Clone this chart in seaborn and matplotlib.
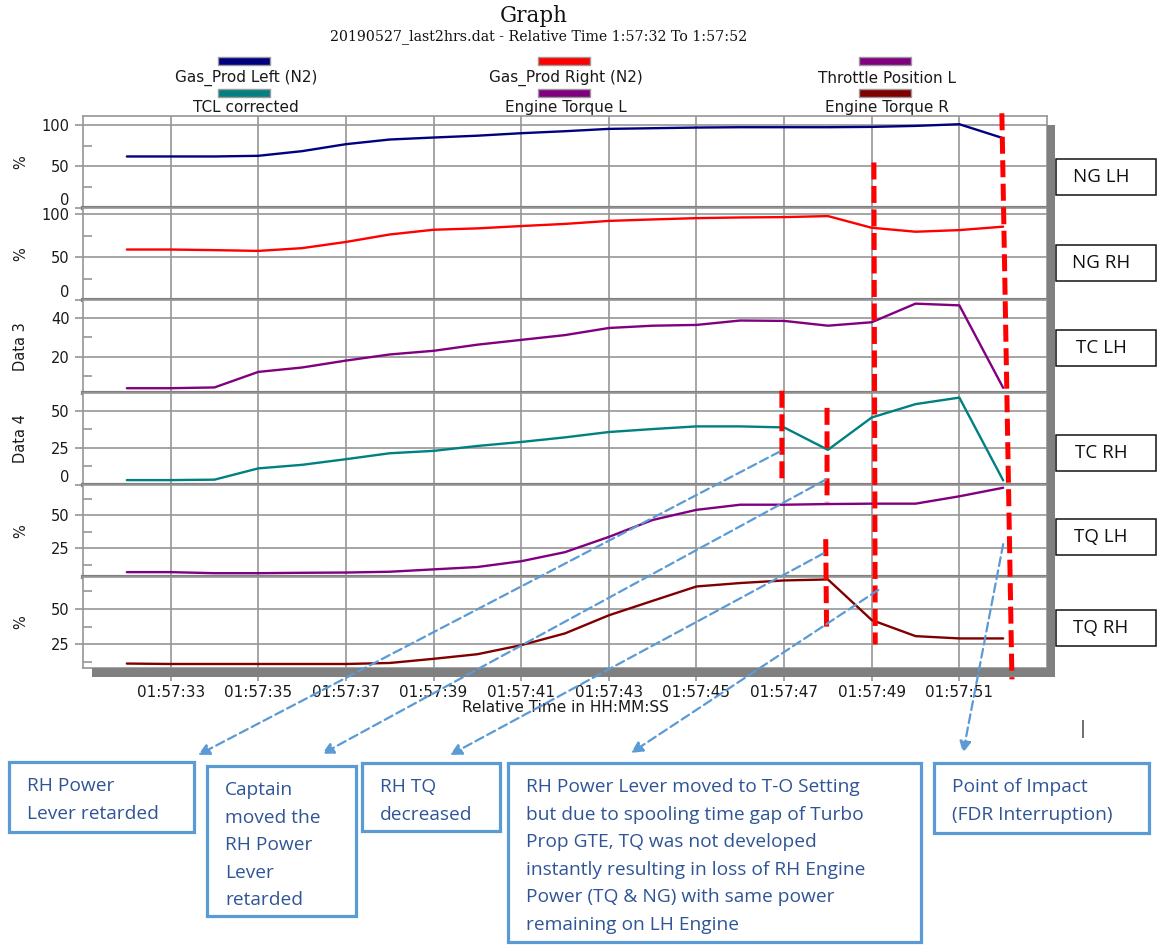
import matplotlib
matplotlib.use("Agg")
import matplotlib.pyplot as plt
import seaborn as sns
import pandas as pd
from matplotlib.patches import Rectangle, ConnectionPatch

# ---------------- recorded values (1 s samples) ----------------
seconds = list(range(32, 53))
gas_prod_left = [62, 62, 62, 62.8, 68.4, 76.8, 82.4, 84.8, 87, 90, 92.4,
                 95.2, 96, 96.8, 97.2, 97.2, 97.2, 97.6, 98.8, 100.8, 84]
gas_prod_right = [58.7, 58.7, 58, 57.1, 60.3, 67.5, 76.2, 81.7, 83.3, 86, 88.5,
                  92, 93.7, 95.2, 96, 96.4, 97.6, 84, 79.4, 81.3, 85.3]
throttle_position_l = [3.5, 3.5, 3.9, 12, 14.3, 17.9, 21.1, 23, 26.2, 28.7, 31.2,
                       34.9, 36.1, 36.5, 38.8, 38.6, 36.1, 37.9, 47.6, 46.7, 3.7]
tcl_corrected = [3.3, 3.3, 3.6, 11.2, 13.6, 17.4, 21.4, 23, 26.3, 29, 32.1,
                 35.7, 37.7, 39.5, 39.5, 38.8, 23.7, 45.5, 54.5, 58.9, 3.1]
engine_torque_l = [6.7, 6.7, 5.9, 5.9, 6.2, 6.4, 7, 8.8, 10.6, 15, 21.9,
                   33.5, 46.4, 54.1, 58, 58, 58.5, 58.8, 58.8, 64.4, 70.9]
engine_torque_r = [11.7, 11.4, 11.4, 11.4, 11.4, 11.4, 12.1, 15, 18.2, 24.5, 32.7,
                   45.3, 55.4, 65.4, 67.8, 69.6, 70.3, 42, 30.8, 29.2, 29.2]

series_names = ["Gas_Prod Left (N2)", "Gas_Prod Right (N2)", "Throttle Position L",
                "TCL corrected", "Engine Torque L", "Engine Torque R"]
series_colors = ["#000080", "#ff0000", "#800080", "#008080", "#800080", "#800000"]
panel_tags = ["NG LH", "NG RH", "TC LH", "TC RH", "TQ LH", "TQ RH"]
y_titles = ["%", "%", "Data 3", "Data 4", "%", "%"]

tick_seconds = [33, 35, 37, 39, 41, 43, 45, 47, 49, 51]
tick_labels = ["01:57:33", "01:57:35", "01:57:37", "01:57:39", "01:57:41",
               "01:57:43", "01:57:45", "01:57:47", "01:57:49", "01:57:51"]

title = "Graph"
subtitle = "20190527_last2hrs.dat - Relative Time 1:57:32 To 1:57:52"
x_title = "Relative Time in HH:MM:SS"

# event markers: (time, panel, value) at top -> (time, panel, value) at bottom
event_marks = [
    ((46.95, 3, 63.5), (46.95, 3, 1.0)),
    ((47.98, 3, 52.0), (47.98, 4, 59.8)),
    ((47.95, 4, 31.8), (47.97, 5, 33.3)),
    ((49.05, 0, 54.8), (49.08, 5, 25.0)),
    ((51.97, 0, 114.0), (52.20, 5, 0.7)),
]

callout_texts = [
    ["RH Power", "Lever retarded"],
    ["Captain", "moved the", "RH Power", "Lever", "retarded"],
    ["RH TQ", "decreased"],
    ["RH Power Lever moved to T-O Setting",
     "but due to spooling time gap of Turbo",
     "Prop GTE, TQ was not developed",
     "instantly resulting in loss of RH Engine",
     "Power (TQ & NG) with same power",
     "remaining on LH Engine"],
    ["Point of Impact", "(FDR Interruption)"],
]
# arrow origin on the chart for each callout: (time, panel, value)
callout_origins = [(46.9, 3, 22.5), (47.95, 3, 3.6), (47.9, 4, 21.0),
                   (49.15, 5, 63.0), (52.0, 4, 28.0)]

df = pd.DataFrame({
    "time": seconds,
    series_names[0]: gas_prod_left,
    series_names[1]: gas_prod_right,
    series_names[2]: throttle_position_l,
    series_names[3]: tcl_corrected,
    series_names[4]: engine_torque_l,
    series_names[5]: engine_torque_r,
})

# ---------------- styling / layout ----------------
sns.set_theme(style="white")
plt.rcParams["font.family"] = ["DejaVu Sans"]

W, H = 1157, 949
fig = plt.figure(figsize=(W / 100, H / 100), dpi=100)
fig.patch.set_facecolor("white")


def frac(left, top, width, height):
    return [left / W, 1 - (top + height) / H, width / W, height / H]


GRID = "#969696"
SEP = "#808080"
plot_left, plot_width = 83, 964
edges = [116, 208, 300, 393, 485, 577, 668]
ylims = [(0, 110.7), (0, 107), (1, 49.5), (0, 62), (3, 73), (8.6, 72)]
majors = [[0, 50, 100], [0, 50, 100], [20, 40], [0, 25, 50], [25, 50], [25, 50]]
minors = [[25, 75], [25, 75], [10, 30], [12.5, 37.5], [12.5, 37.5, 62.5],
          [12.5, 37.5, 62.5]]

axes = []
for i, name in enumerate(series_names):
    top, bot = edges[i], edges[i + 1]
    ax = fig.add_axes(frac(plot_left, top, plot_width, bot - top))
    ax.set_facecolor("white")
    sns.lineplot(data=df, x="time", y=name, ax=ax, color=series_colors[i],
                 linewidth=1.7, legend=False)
    ax.set_xlim(31.0, 53.0)
    ax.set_ylim(*ylims[i])
    ax.set_xticks(tick_seconds)
    ax.set_yticks(majors[i], [f"{v:g}" for v in majors[i]])
    ax.set_yticks(minors[i], minor=True)
    ax.set_axisbelow(True)
    ax.grid(True, which="major", color=GRID, linewidth=1.2)
    ax.grid(False, which="minor")
    ax.tick_params(axis="y", which="major", left=True, direction="out",
                   length=5.5, width=1.2, color=GRID, labelsize=10.5,
                   labelcolor="#1a1a1a", pad=4)
    ax.tick_params(axis="y", which="minor", left=True, direction="in",
                   length=6.5, width=1.2, color=GRID)
    for lab in ax.get_yticklabels():
        if lab.get_text() == "0":
            lab.set_va("bottom")
    for side in ("left", "top", "right"):
        ax.spines[side].set_color(GRID)
        ax.spines[side].set_linewidth(1.2)
    if i < 5:
        ax.spines["bottom"].set_color(SEP)
        ax.spines["bottom"].set_linewidth(3.0)
        ax.tick_params(axis="x", which="both", bottom=False, length=0,
                       labelbottom=False)
        ax.set_xlabel("")
    else:
        ax.spines["bottom"].set_color(GRID)
        ax.spines["bottom"].set_linewidth(1.2)
        ax.set_xticks(tick_seconds, tick_labels)
        ax.tick_params(axis="x", which="major", bottom=True, direction="out",
                       length=9.5, width=1.2, color=GRID, labelsize=11,
                       labelcolor="#1a1a1a", pad=3)
        ax.set_xlabel(x_title, fontsize=11, color="#1a1a1a", labelpad=0)
    ax.set_ylabel(y_titles[i], fontsize=10.5, color="#1a1a1a")
    ax.yaxis.set_label_coords(-0.057, 0.5)
    axes.append(ax)

# overlay in pixel space for frame shadow, legend, tags and callouts
ov = fig.add_axes([0, 0, 1, 1], zorder=5)
ov.set_xlim(0, W)
ov.set_ylim(H, 0)
ov.axis("off")
ov.patch.set_visible(False)

ov.add_patch(Rectangle((1047, 125), 8, 552, color=SEP, lw=0))
ov.add_patch(Rectangle((92, 668), 963, 9, color=SEP, lw=0))

# titles
ov.text(534, 16, title, ha="center", va="center", fontsize=15.5,
        family="DejaVu Serif", color="#111111")
ov.text(539, 37, subtitle, ha="center", va="center", fontsize=10.2,
        family="DejaVu Serif", color="#111111")

# legend: three columns, two rows
col_x = [244, 564, 885]
patch_y = [57, 89]
text_y = [78, 107]
for k, (name, color) in enumerate(zip(series_names, series_colors)):
    row, col = divmod(k, 3)
    ov.add_patch(Rectangle((col_x[col] - 26, patch_y[row]), 52, 7.5,
                           facecolor=color, edgecolor="#9a9a9a", lw=1.0))
    ov.text(col_x[col] + 2, text_y[row], name, ha="center", va="center",
            fontsize=11, color="#1a1a1a")

# panel tags on the right
tag_tops = [159, 245, 330, 435, 519, 610]
for tag, top in zip(panel_tags, tag_tops):
    ov.add_patch(Rectangle((1056, top), 100, 36, facecolor="white",
                           edgecolor="#111111", lw=1.1))
    ov.text(1101, top + 18, tag, ha="center", va="center", fontsize=13.5,
            family="Open Sans", color="#111111")

ov.text(1083, 729, "|", ha="center", va="center", fontsize=13, color="#444444")

# callout boxes
BLUE = "#5b9bd5"
TEXT_BLUE = "#2f5597"
box_geoms = [(9, 762, 185, 70), (207, 766, 149, 150), (362, 763, 138, 68),
             (508, 763, 413, 179), (934, 763, 215, 70)]
arrow_tips = [(198, 755), (322, 754), (450, 755), (631, 753), (963, 753)]
for lines, (bx, by, bw, bh) in zip(callout_texts, box_geoms):
    ov.add_patch(Rectangle((bx, by), bw, bh, facecolor="white",
                           edgecolor=BLUE, lw=2.3))
    clip = Rectangle((bx, by), bw, min(bh, 169), transform=ov.transData)
    for j, line in enumerate(lines):
        t = ov.text(bx + 18, by + 24 + j * 27.6, line, ha="left", va="center",
                    fontsize=13.8, family="Open Sans", color=TEXT_BLUE)
        t.set_clip_path(clip)

# dashed red event markers
for (ta, ia, va), (tb, ib, vb) in event_marks:
    con = ConnectionPatch(xyA=(ta, va), coordsA=axes[ia].transData,
                          xyB=(tb, vb), coordsB=axes[ib].transData,
                          color="#ff0000", lw=3.6, linestyle=(0, (3.4, 1.3)),
                          capstyle="butt", zorder=20)
    fig.add_artist(con)

# dashed blue arrows from the chart to each callout
for (t0, i0, v0), tip in zip(callout_origins, arrow_tips):
    arr = ConnectionPatch(xyA=(t0, v0), coordsA=axes[i0].transData,
                          xyB=tip, coordsB=ov.transData,
                          arrowstyle="-|>", mutation_scale=17, color=BLUE,
                          lw=1.6, linestyle=(0, (4, 2)), zorder=21)
    fig.add_artist(arr)

fig.savefig("out.png", dpi=100)
